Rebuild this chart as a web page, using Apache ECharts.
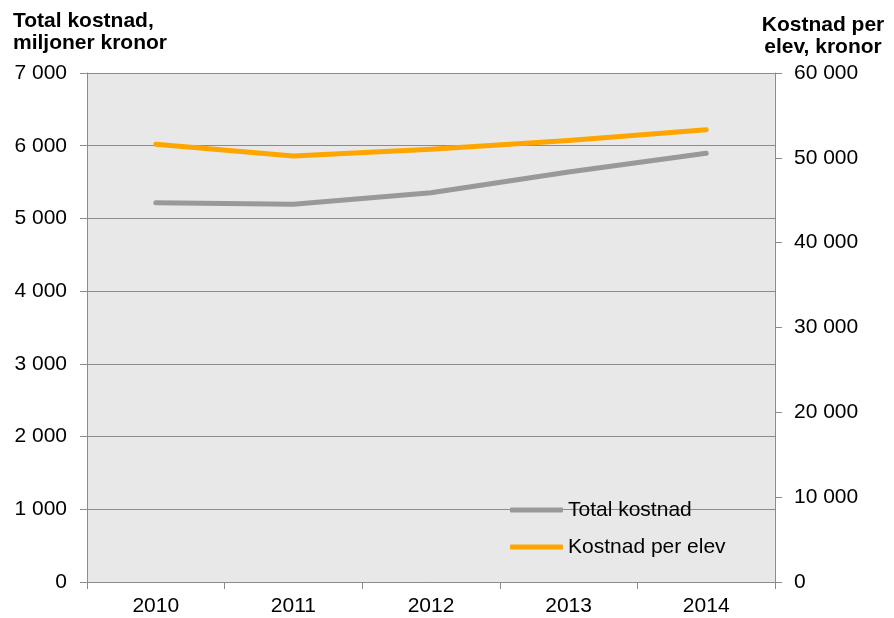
<!DOCTYPE html>
<html>
<head>
<meta charset="utf-8">
<script src="https://cdn.jsdelivr.net/npm/echarts@6/dist/echarts.min.js"></script>
<style>
html, body { margin: 0; padding: 0; background: #fff; }
#chart { width: 894px; height: 618px; }
</style>
</head>
<body>
<div id="chart"></div>
<script>
const years = ['2010', '2011', '2012', '2013', '2014'];
const totalKostnad = [5216, 5195, 5354, 5639, 5896];
const kostnadPerElev = [51600, 50220, 51010, 52030, 53320];
const seriesNames = ['Total kostnad', 'Kostnad per elev'];
const leftTitle = 'Total kostnad,\nmiljoner kronor';
const rightTitle = 'Kostnad per\nelev, kronor';

const FONT = '"Liberation Sans", Arial, sans-serif';
const AXIS_COLOR = '#8c8c8c';
const fmt = v => String(v).replace(/\B(?=(\d{3})+(?!\d))/g, ' ');

const chart = echarts.init(document.getElementById('chart'), null, { renderer: 'canvas' });
chart.setOption({
  animation: false,
  backgroundColor: '#ffffff',
  textStyle: { fontFamily: FONT },
  graphic: [
    {
      type: 'text', x: 13, y: 10,
      style: { text: leftTitle, fill: '#000', fontFamily: FONT, fontSize: 21, fontWeight: 'bold',
               lineHeight: 22, align: 'left', verticalAlign: 'top' }
    },
    {
      type: 'text', x: 823, y: 14,
      style: { text: rightTitle, fill: '#000', fontFamily: FONT, fontSize: 21, fontWeight: 'bold',
               lineHeight: 22, align: 'center', verticalAlign: 'top' }
    }
  ],
  grid: {
    left: 87, right: 119, top: 73, bottom: 36,
    show: true, backgroundColor: '#e8e8e8', borderWidth: 0
  },
  legend: {
    orient: 'vertical',
    left: 510, top: 499.5,
    padding: 0,
    itemGap: 16,
    itemWidth: 53, itemHeight: 5,
    icon: 'roundRect',
    textStyle: { fontFamily: FONT, fontSize: 21, color: '#000', lineHeight: 21 },
    data: seriesNames
  },
  xAxis: {
    type: 'category',
    data: years,
    boundaryGap: true,
    axisLine: { show: true, lineStyle: { color: AXIS_COLOR, width: 1 } },
    axisTick: { show: true, alignWithLabel: false, interval: 0, length: 7, lineStyle: { color: AXIS_COLOR } },
    axisLabel: { color: '#000', fontFamily: FONT, fontSize: 21, margin: 14 },
    splitLine: { show: false }
  },
  yAxis: [
    {
      type: 'value', min: 0, max: 7000, interval: 1000, position: 'left',
      axisLine: { show: true, lineStyle: { color: AXIS_COLOR, width: 1 } },
      axisTick: { show: true, inside: false, length: 7, lineStyle: { color: AXIS_COLOR } },
      axisLabel: { color: '#000', fontFamily: FONT, fontSize: 21, margin: 20, formatter: fmt },
      splitLine: { show: true, lineStyle: { color: AXIS_COLOR, width: 1 } }
    },
    {
      type: 'value', min: 0, max: 60000, interval: 10000, position: 'right',
      axisLine: { show: true, lineStyle: { color: AXIS_COLOR, width: 1 } },
      axisTick: { show: true, inside: false, length: 7, lineStyle: { color: AXIS_COLOR } },
      axisLabel: { color: '#000', fontFamily: FONT, fontSize: 21, margin: 19, formatter: fmt },
      splitLine: { show: false }
    }
  ],
  series: [
    {
      name: seriesNames[0], type: 'line', yAxisIndex: 0, data: totalKostnad,
      showSymbol: false, symbol: 'none', smooth: false,
      itemStyle: { color: '#999999' },
      lineStyle: { color: '#999999', width: 5, cap: 'round', join: 'round' }
    },
    {
      name: seriesNames[1], type: 'line', yAxisIndex: 1, data: kostnadPerElev,
      showSymbol: false, symbol: 'none', smooth: false,
      itemStyle: { color: '#ffa500' },
      lineStyle: { color: '#ffa500', width: 5, cap: 'round', join: 'round' }
    }
  ]
});
</script>
</body>
</html>
